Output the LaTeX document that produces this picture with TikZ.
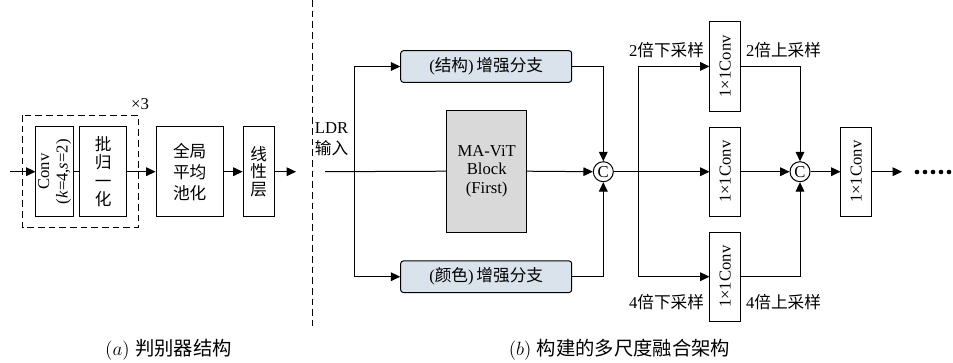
\documentclass[tikz,border=0pt]{standalone}
\usepackage{fontspec}
\setmainfont{Liberation Serif}
\newfontfamily\cjk{Noto Sans CJK SC}
\newcommand\zh[1]{{\cjk #1}}
\usetikzlibrary{arrows.meta,positioning}
\begin{document}
\begin{tikzpicture}[x=0.75pt,y=-0.75pt,
  line width=0.75pt,
  font=\fontsize{12.5}{14}\selectfont,
  box/.style={draw,minimum width=#1},
  arr/.style={-{Triangle[length=7pt,width=6.5pt]}},
  cc/.style={draw,circle,minimum size=15pt,inner sep=0pt},
  lbl/.style={inner sep=1pt}]
\useasboundingbox (0,0) rectangle (953,362);
% ---------- (a)
\node[box=28pt,minimum height=67.5pt] (conv) at (54.6,171.7) {};
\node[rotate=90,align=center,inner sep=0pt] (convt) at (conv) {Conv\\(\textit{k}=4,\textit{s}=2)};
\node[box=35pt,minimum height=67.5pt,align=center,font=\fontsize{12.5}{13.8}\selectfont\cjk] (bn) at (103.3,171.7) {批\\归\\一\\化};
\node[box=50.5pt,minimum height=67.5pt,align=center,font=\fontsize{12.5}{15.8}\selectfont\cjk] (gap) at (189.7,171.7) {全局\\平均\\池化};
\node[box=23.5pt,minimum height=67.5pt,align=center,font=\fontsize{12.5}{13}\selectfont\cjk] (lin) at (258.7,171.7) {线\\性\\层};
\draw[dashed,dash pattern=on 5pt off 3pt] (22.7,115) rectangle (138.3,227.7);
\node[lbl] (x3) at (140,104) {×3};
\coordinate (ain) at (10,171.7);
\coordinate (aout) at (296,171.7);
\draw[arr] (ain) -- (conv.west);
\draw (conv.east) -- (bn.west);
\draw[arr] (bn.east) -- (gap.west);
\draw[arr] (gap.east) -- (lin.west);
\draw[arr] (lin.east) -- (aout);
% separator
\coordinate (s1) at (312.5,0);
\coordinate (s2) at (312.5,326);
\draw[dash pattern=on 5pt off 3pt] (s1) -- (s2);
% ---------- (b)
\node[lbl,anchor=west] (ldr) at (313,128) {LDR};
\node[lbl,anchor=west] (inp) at (313,148) {\zh{输入}};
\coordinate (bin) at (325,171.7);
\coordinate (split) at (354,171.7);
\node[draw,fill=gray!30,minimum width=60pt,minimum height=91.7pt,align=center] (vit) at (486.7,171.2) {MA-ViT\\Block\\(First)};
\node[draw,fill={rgb,255:red,218;green,227;blue,236},rounded corners=2pt,minimum width=128.25pt,minimum height=23.7pt] (top) at (486.2,66.5) {(\zh{结构})\,\zh{增强分支}};
\node[draw,fill={rgb,255:red,218;green,227;blue,236},rounded corners=2pt,minimum width=128.25pt,minimum height=23.7pt] (bot) at (486.2,276.7) {(\zh{颜色})\,\zh{增强分支}};
\node[cc] (c1) at (603.3,171.7) {C};
\draw (bin) -- (vit.west);
\draw[arr] (vit.east) -- (c1.west);
\draw[arr] (split) |- (top.west);
\draw[arr] (split) |- (bot.west);
\draw[arr] (top.east) -| (c1.north);
\draw[arr] (bot.east) -| (c1.south);
% multi-scale
\node[box=23pt,minimum height=67pt] (k1) at (725.3,66.4) {};
\node[box=23pt,minimum height=67pt] (k2) at (725.3,171.7) {};
\node[box=23pt,minimum height=67pt] (k3) at (725.3,276.7) {};
\node[box=23pt,minimum height=67pt] (k4) at (856.3,171.7) {};
\foreach \k in {k1,k2,k3,k4}
  \node[rotate=90,inner sep=0pt] at (\k) {1×1Conv};
\node[cc] (c2) at (800,171.7) {C};
\coordinate (split2) at (638.3,171.7);
\draw[arr] (c1.east) -- (k2.west);
\draw[arr] (split2) |- (k1.west);
\draw[arr] (split2) |- (k3.west);
\draw[arr] (k2.east) -- (c2.west);
\draw[arr] (k1.east) -| (c2.north);
\draw[arr] (k3.east) -| (c2.south);
\draw[arr] (c2.east) -- (k4.west);
\coordinate (bout) at (902,171.7);
\draw[arr] (k4.east) -- (bout);
\foreach \i in {0,...,4} \fill (917+8*\i,172) circle (2.3);
\node[lbl] (l1) at (666.5,50) {2\zh{倍下采样}};
\node[lbl] (l2) at (783.5,50) {2\zh{倍上采样}};
\node[lbl] (l3) at (666.5,301.7) {4\zh{倍下采样}};
\node[lbl] (l4) at (783.5,301.7) {4\zh{倍上采样}};
% captions
\node[lbl,font=\fontsize{14.5}{16}\selectfont] (capa) at (168.5,350) {$(a)$\;\zh{判别器结构}};
\node[lbl,font=\fontsize{14.5}{16}\selectfont] (capb) at (619.5,350) {$(b)$\;\zh{构建的多尺度融合架构}};
\end{tikzpicture}
\end{document}
